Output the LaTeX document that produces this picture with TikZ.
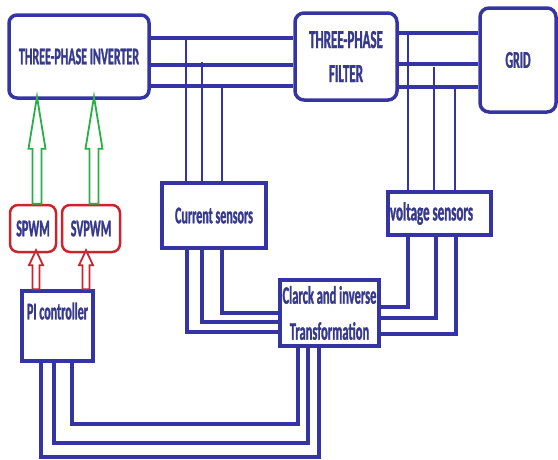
\documentclass[tikz,border=0pt]{standalone}
\usepackage{fontspec}
\usepackage{tikz}
\usetikzlibrary{positioning}
\newfontfamily\blockfont{Carlito}[FakeStretch=0.5, FakeBold=1.2]
\definecolor{wire}{RGB}{52,52,165}
\definecolor{ink}{RGB}{55,57,140}
\definecolor{pwmred}{RGB}{205,35,45}
\definecolor{gatepath}{RGB}{40,175,70}
\tikzset{
  x=1pt, y=-1pt,
  block/.style={draw=wire, line width=3.5pt, text=ink, align=center, inner sep=1pt,
    font=\blockfont\bfseries\fontsize{24}{36}\selectfont},
  power/.style={block, rounded corners=9pt},
  pwm/.style={block, draw=pwmred, line width=2.5pt, rounded corners=8pt},
  bus/.style={draw=wire, line width=3.5pt},
  tap/.style={draw=wire, line width=2.5pt},
  gatearrow/.style={draw=gatepath, line width=1.8pt, line join=miter},
  refarrow/.style={draw=pwmred, line width=1.8pt, line join=miter},
}

\begin{document}
\begin{tikzpicture}
  \useasboundingbox (0,0) rectangle (558,459);

  % blocks
  \node[power, minimum width=140, minimum height=83, rounded corners=8pt] (inv) at (79,56.5) {THREE-PHASE INVERTER};
  \node[power, minimum width=102, minimum height=87,
    font=\blockfont\bfseries\fontsize{26}{34}\selectfont] (filt) at (346,56.5) {THREE-PHASE\\FILTER};
  \node[power, minimum width=76, minimum height=104] (grid) at (518,60) {GRID};
  \node[block, minimum width=104, minimum height=65] (cs) at (214,215.5) {Current sensors};
  \node[block, minimum width=103, minimum height=43, text width=99pt, align=flush left, inner sep=1pt,
    font=\blockfont\bfseries\fontsize{26}{30}\selectfont] (vs) at (439.5,213.5) {voltage sensors};
  \node[block, minimum width=99, minimum height=66,
    font=\blockfont\bfseries\fontsize{25}{36}\selectfont] (clarke) at (329.5,313) {Clarck and inverse\\Transformation};
  \node[block, minimum width=71, minimum height=70, text depth=30pt] (pi) at (57.5,326) {PI controller};
  \node[pwm, minimum width=46, minimum height=47] (spwm) at (33,228.5) {SPWM};
  \node[pwm, minimum width=58, minimum height=47] (svpwm) at (91,228.5) {SVPWM};

  % gate signals (hollow arrows)
  \draw[gatearrow] ([xshift=4pt]spwm.north) ++(-4.5,0) -- ++(0,-55) -- ++(-4,0) -- ++(8.5,-52)
    -- ++(8.5,52) -- ++(-4,0) -- ++(0,55) -- cycle;
  \draw[gatearrow] ([xshift=3pt]svpwm.north) ++(-4.5,0) -- ++(0,-55) -- ++(-4,0) -- ++(8.5,-52)
    -- ++(8.5,52) -- ++(-4,0) -- ++(0,55) -- cycle;
  \draw[refarrow] (spwm.south |- pi.north) ++(-0.5,0) -- ++(0,-24) -- ++(-3.5,0) -- ++(7,-15)
    -- ++(7,15) -- ++(-3.5,0) -- ++(0,24) -- cycle;
  \draw[refarrow] (svpwm.south |- pi.north) ++(-8.5,0) -- ++(0,-24) -- ++(-3.5,0) -- ++(7,-15)
    -- ++(7,15) -- ++(-3.5,0) -- ++(0,24) -- cycle;

  % power lines
  \draw[bus] (inv.east |- 0,38) -- (filt.west |- 0,38);
  \draw[bus] (inv.east |- 0,65) -- (filt.west |- 0,65);
  \draw[bus] (inv.east |- 0,86) -- (filt.west |- 0,86);
  \draw[bus] (filt.east |- 0,33) -- (grid.west |- 0,33);
  \draw[bus] (filt.east |- 0,64) -- (grid.west |- 0,64);
  \draw[bus] (filt.east |- 0,87) -- (grid.west |- 0,87);

  % measuring taps
  \coordinate (ia) at (186,38);
  \coordinate (ib) at (202,62);
  \coordinate (ic) at (222,86);
  \coordinate (va) at (408,33);
  \coordinate (vb) at (434,67);
  \coordinate (vc) at (455,87);
  \draw[tap] (ia) -- (ia |- cs.north);
  \draw[tap] (ib) -- (ib |- cs.north);
  \draw[tap] (ic) -- (ic |- cs.north);
  \draw[tap] (va) -- (va |- vs.north);
  \draw[tap] (vb) -- (vb |- vs.north);
  \draw[tap] (vc) -- (vc |- vs.north);

  % sensors to transformation
  \draw[bus] (187,0 |- cs.south) |- (clarke.west |- 0,332);
  \draw[bus] (202,0 |- cs.south) |- (clarke.west |- 0,322);
  \draw[bus] (222,0 |- cs.south) |- (clarke.west |- 0,313);
  \draw[bus] (408,0 |- vs.south) |- (clarke.east |- 0,307);
  \draw[bus] (436,0 |- vs.south) |- (clarke.east |- 0,318);
  \draw[bus] (456,0 |- vs.south) |- (clarke.east |- 0,334);

  % transformation to controller
  \draw[bus] (298,0 |- clarke.south) |- (72,424) -- (72,0 |- pi.south);
  \draw[bus] (308,0 |- clarke.south) |- (54,443) -- (54,0 |- pi.south);
  \draw[bus] (319,0 |- clarke.south) |- (41,457) -- (41,0 |- pi.south);
\end{tikzpicture}
\end{document}
